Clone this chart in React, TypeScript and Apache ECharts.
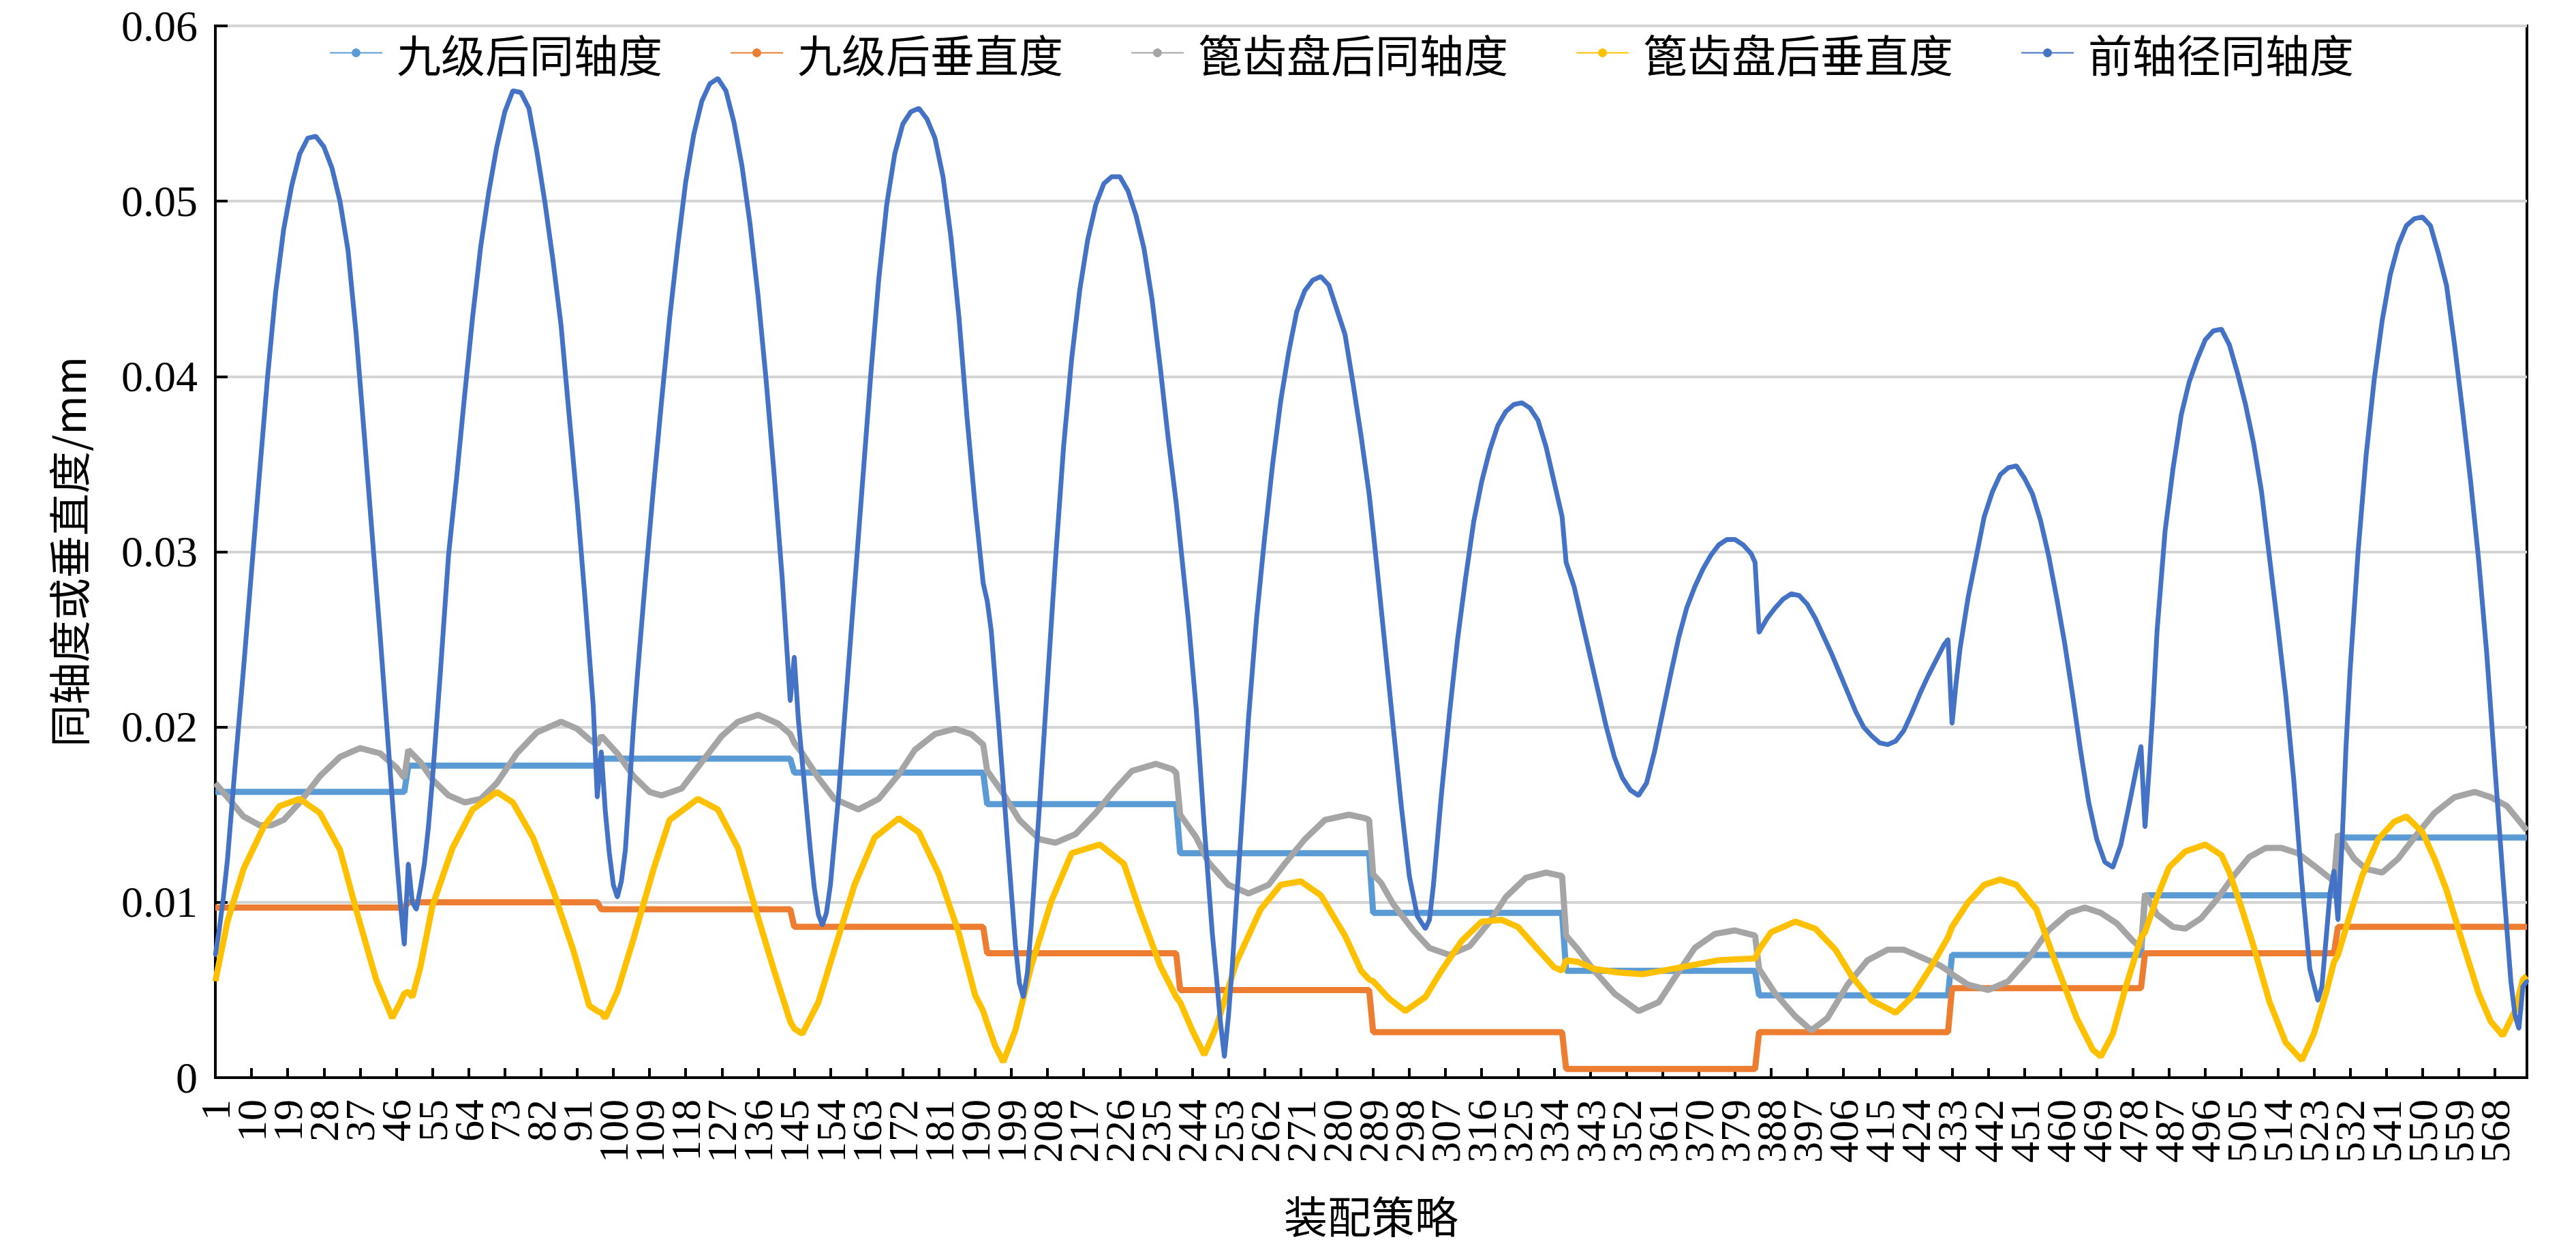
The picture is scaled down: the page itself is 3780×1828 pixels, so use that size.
import React, { useEffect, useRef } from "react";
import * as echarts from "echarts";

// ---------- data ----------
const categoryCount = 576;
const categories: string[] = Array.from({ length: categoryCount }, (_, i) => String(i + 1));
const segmentLength = 48; // 12 assembly groups of 48 strategies
const labelStep = 9; // a tick label on every 9th strategy: 1, 10, 19, ...

const seriesNames = ["九级后同轴度", "九级后垂直度", "篦齿盘后同轴度", "篦齿盘后垂直度", "前轴径同轴度"];

// step series: one value per group of 48 strategies
const ninthCoaxiality = [0.0163, 0.0178, 0.0182, 0.0174, 0.0156, 0.0128, 0.0094, 0.0061, 0.0047, 0.0070, 0.0104, 0.0137];
const ninthPerpendicularity = [0.0097, 0.0100, 0.0096, 0.0086, 0.0071, 0.0050, 0.0026, 0.0005, 0.0026, 0.0051, 0.0071, 0.0086];

// [strategy, value] readings
const discCoaxiality: [number, number][] = [
  [1,0.0168],[4,0.0160],[8,0.0149],[12,0.0144],[15,0.0144],[18,0.0147],[22,0.0157],[27,0.0172],[32,0.0183],[37,0.0188],[42,0.0185],[46,0.0177],[48,0.0171],
  [49,0.0187],[52,0.0180],[55,0.0170],[59,0.0161],[63,0.0157],[67,0.0159],[71,0.0168],[76,0.0185],[81,0.0197],[87,0.0203],[91,0.0199],[94,0.0193],[96,0.0190],
  [97,0.0195],[101,0.0185],[105,0.0172],[109,0.0163],[112,0.0161],[117,0.0165],[122,0.0180],[127,0.0195],[131,0.0203],[136,0.0207],[141,0.0202],[144,0.0196],
  [145,0.0191],[147,0.0185],[151,0.0171],[155,0.0159],[161,0.0153],[166,0.0159],[171,0.0173],[175,0.0187],[180,0.0196],[185,0.0199],[189,0.0196],[192,0.0190],
  [193,0.0175],[197,0.0162],[201,0.0147],[206,0.0136],[210,0.0134],[215,0.0139],[220,0.0151],[225,0.0165],[229,0.0175],[235,0.0179],[239,0.0176],[240,0.0174],
  [241,0.0150],[245,0.0137],[248,0.0123],[253,0.0110],[258,0.0105],[263,0.0110],[267,0.0122],[272,0.0136],[277,0.0147],[283,0.0150],[287,0.0148],[288,0.0147],
  [289,0.0116],[291,0.0111],[294,0.0099],[299,0.0084],[303,0.0074],[308,0.0070],[313,0.0075],[318,0.0089],[322,0.0103],[327,0.0114],[332,0.0117],[336,0.0115],
  [337,0.0081],[340,0.0073],[344,0.0061],[349,0.0048],[355,0.0038],[360,0.0043],[364,0.0057],[369,0.0074],[374,0.0082],[379,0.0084],[384,0.0081],
  [385,0.0062],[389,0.0048],[394,0.0035],[398,0.0027],[402,0.0034],[407,0.0053],[412,0.0067],[417,0.0073],[421,0.0073],[426,0.0068],[430,0.0064],[432,0.0061],
  [433,0.0059],[437,0.0053],[442,0.0050],[447,0.0055],[452,0.0068],[457,0.0084],[462,0.0094],[466,0.0097],[470,0.0094],[474,0.0088],[478,0.0078],[480,0.0074],
  [481,0.0105],[484,0.0093],[488,0.0086],[491,0.0085],[495,0.0091],[499,0.0102],[503,0.0115],[507,0.0126],[511,0.0131],[515,0.0131],[519,0.0128],[523,0.0121],[528,0.0112],
  [529,0.0139],[533,0.0125],[536,0.0119],[540,0.0117],[544,0.0125],[548,0.0137],[553,0.0151],[558,0.0160],[563,0.0163],[567,0.0160],[571,0.0155],[576,0.0141],
];

const discPerpendicularity: [number, number][] = [
  [1,0.0055],[4,0.0089],[8,0.0119],[13,0.0143],[17,0.0155],[22,0.0159],[27,0.0151],[32,0.0130],[36,0.0096],[41,0.0056],[45,0.0034],[47,0.0043],[48,0.0048],
  [49,0.0049],[50,0.0046],[52,0.0063],[55,0.0098],[60,0.0131],[65,0.0153],[71,0.0163],[75,0.0157],[80,0.0137],[85,0.0107],[90,0.0073],[94,0.0041],[96,0.0038],
  [97,0.0037],[98,0.0034],[101,0.0049],[105,0.0079],[110,0.0119],[114,0.0147],[121,0.0159],[126,0.0153],[131,0.0131],[135,0.0099],[140,0.0061],[144,0.0032],
  [145,0.0028],[147,0.0025],[151,0.0043],[155,0.0073],[160,0.0110],[165,0.0137],[171,0.0148],[176,0.0140],[181,0.0116],[186,0.0082],[190,0.0047],[192,0.0038],
  [193,0.0031],[195,0.0018],[197,0.0009],[200,0.0027],[204,0.0064],[209,0.0101],[214,0.0128],[221,0.0133],[227,0.0122],[231,0.0095],[236,0.0064],[240,0.0046],
  [241,0.0043],[244,0.0027],[247,0.0013],[250,0.0029],[255,0.0066],[261,0.0096],[266,0.0110],[271,0.0112],[276,0.0104],[282,0.0081],[286,0.0061],[288,0.0056],
  [289,0.0055],[293,0.0045],[297,0.0038],[302,0.0046],[306,0.0061],[311,0.0078],[316,0.0089],[321,0.0090],[325,0.0086],[330,0.0073],[334,0.0063],[336,0.0061],
  [337,0.0067],[340,0.0066],[344,0.0062],[350,0.0060],[356,0.0059],[361,0.0061],[368,0.0064],[375,0.0067],[384,0.0068],
  [385,0.0073],[388,0.0083],[394,0.0089],[399,0.0085],[404,0.0073],[408,0.0058],[413,0.0044],[419,0.0037],[423,0.0046],[428,0.0064],[432,0.0080],
  [433,0.0086],[437,0.0100],[441,0.0110],[445,0.0113],[449,0.0110],[454,0.0096],[459,0.0064],[464,0.0034],[468,0.0016],[470,0.0012],[473,0.0025],[476,0.0050],[480,0.0080],
  [481,0.0083],[484,0.0103],[487,0.0120],[491,0.0129],[496,0.0133],[500,0.0127],[502,0.0117],[505,0.0097],[508,0.0075],[512,0.0043],[516,0.0020],[520,0.0010],[523,0.0025],[526,0.0048],[528,0.0066],
  [529,0.0070],[532,0.0093],[535,0.0115],[539,0.0136],[543,0.0146],[546,0.0149],[550,0.0140],[553,0.0125],[556,0.0107],[560,0.0077],[564,0.0048],[567,0.0032],[570,0.0024],[573,0.0038],[575,0.0056],[576,0.0058],
];

const frontShaftCoaxiality: [number, number][] = [
  [1,0.0070],[2,0.0085],[3,0.0103],[4,0.0124],[6,0.0180],[8,0.0233],[10,0.0289],[12,0.0345],[14,0.0400],[16,0.0448],[18,0.0484],[20,0.0509],[22,0.0527],[24,0.0536],[26,0.0537],[28,0.0531],[30,0.0519],[32,0.0500],[34,0.0472],[36,0.0425],[38,0.0368],[40,0.0310],[42,0.0252],[44,0.0190],[46,0.0128],[47,0.0100],[48,0.0076],
  [49,0.0122],[50,0.0100],[51,0.0096],[52,0.0108],[53,0.0122],[54,0.0143],[55,0.0170],[57,0.0232],[59,0.0298],[61,0.0342],[63,0.0389],[65,0.0434],[67,0.0474],[69,0.0505],[71,0.0531],[73,0.0551],[75,0.0563],[77,0.0562],[79,0.0553],[81,0.0528],[83,0.0499],[85,0.0466],[87,0.0429],[89,0.0378],[91,0.0328],[93,0.0272],[95,0.0212],[96,0.0160],
  [97,0.0186],[98,0.0152],[99,0.0128],[100,0.0110],[101,0.0103],[102,0.0112],[103,0.0130],[104,0.0165],[105,0.0200],[106,0.0230],[108,0.0285],[110,0.0337],[112,0.0386],[114,0.0433],[116,0.0474],[118,0.0511],[120,0.0538],[122,0.0557],[124,0.0567],[126,0.0570],[128,0.0563],[130,0.0545],[132,0.0520],[134,0.0487],[136,0.0446],[138,0.0398],[140,0.0344],[142,0.0285],[143,0.0250],[144,0.0215],
  [145,0.0240],[146,0.0205],[147,0.0180],[148,0.0155],[149,0.0130],[150,0.0108],[151,0.0093],[152,0.0087],[153,0.0094],[154,0.0110],[156,0.0160],[158,0.0220],[160,0.0280],[162,0.0340],[164,0.0400],[166,0.0455],[168,0.0498],[170,0.0527],[172,0.0544],[174,0.0551],[176,0.0553],[178,0.0547],[180,0.0536],[182,0.0514],[184,0.0479],[186,0.0433],[188,0.0376],[190,0.0326],[192,0.0282],
  [193,0.0272],[194,0.0255],[196,0.0197],[198,0.0136],[200,0.0076],[201,0.0054],[202,0.0046],[203,0.0060],[204,0.0088],[206,0.0155],[208,0.0226],[210,0.0296],[212,0.0360],[214,0.0410],[216,0.0449],[218,0.0478],[220,0.0498],[222,0.0510],[224,0.0514],[226,0.0514],[228,0.0506],[230,0.0492],[232,0.0473],[234,0.0444],[236,0.0406],[238,0.0365],[240,0.0328],
  [241,0.0306],[243,0.0262],[245,0.0210],[247,0.0143],[249,0.0082],[250,0.0058],[251,0.0032],[252,0.0012],[253,0.0035],[254,0.0065],[256,0.0135],[258,0.0205],[260,0.0262],[262,0.0308],[264,0.0350],[266,0.0386],[268,0.0414],[270,0.0437],[272,0.0449],[274,0.0455],[276,0.0457],[278,0.0452],[280,0.0438],[282,0.0424],[284,0.0396],[286,0.0366],[288,0.0333],
  [289,0.0312],[290,0.0290],[292,0.0245],[294,0.0200],[296,0.0155],[298,0.0115],[300,0.0092],[302,0.0085],[303,0.0090],[304,0.0110],[306,0.0162],[308,0.0208],[310,0.0250],[312,0.0285],[314,0.0317],[316,0.0340],[318,0.0358],[320,0.0372],[322,0.0380],[324,0.0384],[326,0.0385],[328,0.0382],[330,0.0375],[332,0.0360],[334,0.0340],[336,0.0320],
  [337,0.0294],[339,0.0280],[341,0.0260],[343,0.0240],[345,0.0220],[347,0.0200],[349,0.0183],[351,0.0171],[353,0.0164],[355,0.0161],[357,0.0168],[359,0.0186],[361,0.0208],[363,0.0230],[365,0.0251],[367,0.0268],[369,0.0280],[371,0.0290],[373,0.0298],[375,0.0304],[377,0.0307],[379,0.0307],[381,0.0304],[383,0.0299],[384,0.0294],
  [385,0.0254],[387,0.0262],[389,0.0268],[391,0.0273],[393,0.0276],[395,0.0275],[397,0.0270],[399,0.0262],[401,0.0252],[403,0.0242],[405,0.0231],[407,0.0220],[409,0.0209],[411,0.0200],[413,0.0195],[415,0.0191],[417,0.0190],[419,0.0192],[421,0.0198],[423,0.0208],[425,0.0219],[427,0.0229],[429,0.0238],[431,0.0247],[432,0.0250],
  [433,0.0202],[434,0.0225],[435,0.0245],[437,0.0274],[439,0.0297],[441,0.0320],[443,0.0334],[445,0.0344],[447,0.0348],[449,0.0349],[451,0.0342],[453,0.0333],[455,0.0318],[457,0.0298],[459,0.0274],[461,0.0248],[463,0.0218],[465,0.0186],[467,0.0157],[469,0.0136],[471,0.0123],[473,0.0120],[475,0.0133],[477,0.0155],[479,0.0178],[480,0.0189],
  [481,0.0143],[482,0.0175],[483,0.0212],[484,0.0255],[486,0.0312],[488,0.0348],[490,0.0378],[492,0.0397],[494,0.0410],[496,0.0421],[498,0.0426],[500,0.0427],[502,0.0418],[504,0.0402],[506,0.0384],[508,0.0362],[510,0.0334],[512,0.0296],[514,0.0258],[516,0.0218],[518,0.0170],[520,0.0112],[522,0.0062],[524,0.0044],[525,0.0052],[526,0.0078],[527,0.0105],[528,0.0118],
  [529,0.0090],[530,0.0133],[531,0.0189],[532,0.0232],[534,0.0300],[536,0.0355],[538,0.0398],[540,0.0432],[542,0.0458],[544,0.0475],[546,0.0486],[548,0.0490],[550,0.0491],[552,0.0486],[554,0.0470],[556,0.0452],[558,0.0418],[560,0.0380],[562,0.0340],[564,0.0295],[566,0.0242],[568,0.0178],[570,0.0115],[572,0.0055],[573,0.0036],[574,0.0028],[575,0.0052],[576,0.0055],
];

const yTickValues = { min: 0, max: 0.06, interval: 0.01 };

// ---------- helpers ----------
function stepData(values: number[]) {
  const out: [string, number][] = [];
  values.forEach((v, s) => {
    out.push([String(s * segmentLength + 1), v]);
    out.push([String(s * segmentLength + segmentLength), v]);
  });
  return out;
}
function pairData(points: [number, number][]) {
  return points.map(([c, v]) => [String(c), v] as [string, number]);
}

const SERIF = "'Liberation Serif', 'Times New Roman', 'Noto Sans CJK SC', serif";
const CJK = "'Noto Sans CJK SC', 'Liberation Serif', sans-serif";

export default function App() {
  const ref = useRef<HTMLDivElement>(null);
  useEffect(() => {
    if (!ref.current) return;
    const chart = echarts.init(ref.current, undefined, { renderer: "svg" });
    const colors = ["#5B9BD5", "#ED7D31", "#A5A5A5", "#FFC000", "#4472C4"];
    const datasets = [
      stepData(ninthCoaxiality),
      stepData(ninthPerpendicularity),
      pairData(discCoaxiality),
      pairData(discPerpendicularity),
      pairData(frontShaftCoaxiality),
    ];
    const widths = [9, 9, 9, 9, 7];
    chart.setOption({
      animation: false,
      backgroundColor: "#ffffff",
      color: colors,
      grid: {
        left: 316,
        right: 72,
        top: 38,
        bottom: 247,
        show: true,
        borderColor: "#000",
        borderWidth: 4,
        backgroundColor: "transparent",
      },
      legend: {
        left: 478,
        top: 40,
        itemWidth: 77,
        itemHeight: 16,
        itemGap: 99,
        data: seriesNames,
        textStyle: { fontFamily: CJK, fontSize: 65, color: "#000", padding: [0, 0, 0, 16] },
      },
      xAxis: {
        type: "category",
        data: categories,
        boundaryGap: false,
        name: "装配策略",
        nameLocation: "middle",
        nameGap: 168,
        nameTextStyle: { fontFamily: CJK, fontSize: 64, color: "#000" },
        axisLine: { show: true, lineStyle: { color: "#000", width: 4 } },
        axisTick: { show: true, inside: true, interval: labelStep - 1, length: 14, lineStyle: { color: "#000", width: 4 } },
        axisLabel: {
          interval: 0,
          formatter: (value: string, index: number) => (index % labelStep === 0 ? value : ""),
          rotate: 90,
          fontFamily: SERIF,
          fontSize: 62,
          color: "#000",
          margin: 32,
          hideOverlap: false,
        },
        splitLine: { show: false },
      },
      yAxis: {
        type: "value",
        min: yTickValues.min,
        max: yTickValues.max,
        interval: yTickValues.interval,
        name: "同轴度或垂直度/mm",
        nameLocation: "middle",
        nameGap: 186,
        nameTextStyle: { fontFamily: CJK, fontSize: 62, color: "#000" },
        axisLine: { show: true, lineStyle: { color: "#000", width: 4 } },
        axisTick: { show: true, inside: true, length: 18, lineStyle: { color: "#000", width: 4 } },
        axisLabel: { fontFamily: SERIF, fontSize: 64, color: "#000", margin: 26 },
        splitLine: { show: true, lineStyle: { color: "#D4D4D4", width: 4 } },
      },
      series: seriesNames.map((name, i) => ({
        name,
        type: "line",
        data: datasets[i],
        symbol: "circle",
        symbolSize: i === 4 ? 6 : 5,
        showSymbol: i === 4,
        showAllSymbol: true,
        lineStyle: { color: colors[i], width: widths[i] },
        itemStyle: { color: colors[i] },
        emphasis: { disabled: true },
        z: 2 + i,
      })),
    });
    return () => chart.dispose();
  }, []);
  return (
    <div
      ref={ref}
      style={{ position: "fixed", left: 0, top: 0, width: 3780, height: 1828, background: "#fff" }}
    />
  );
}
